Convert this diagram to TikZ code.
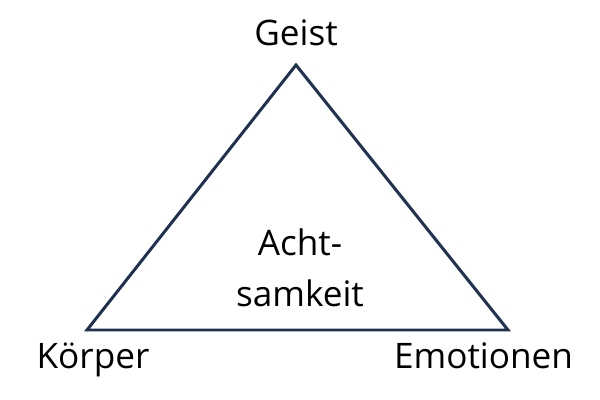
\documentclass[tikz,border=0pt]{standalone}
\usepackage{fontspec}
\setmainfont{Open Sans}
\usetikzlibrary{positioning}

\begin{document}
\begin{tikzpicture}
\def\x{0}
\def\y{0}

\useasboundingbox (\x + 0, \y + 0) rectangle (\x + 12, \y + 8);

\definecolor{navy}{HTML}{1F3050}
\tikzset{label/.style={font=\fontsize{20}{30}\selectfont, anchor=base}}

\coordinate (geist) at (\x + 5.92, \y + 6.7);
\coordinate (koerper) at (\x + 1.74, \y + 1.4);
\coordinate (emotionen) at (\x + 10.16, \y + 1.4);

\draw[navy, line width=1.7pt, line join=miter] (geist) -- (koerper) -- (emotionen) -- cycle;

\node[label] (g) at (\x + 5.92, \y + 7.08) {Geist};
\node[label] (k) at (\x + 1.86, \y + 0.62) {Körper};
\node[label] (e) at (\x + 9.67, \y + 0.62) {Emotionen};
\node[label] (a1) at (\x + 6.0, \y + 2.88) {Acht-};
\node[label] (a2) at (\x + 6.0, \y + 1.86) {samkeit};

\end{tikzpicture}
\end{document}
